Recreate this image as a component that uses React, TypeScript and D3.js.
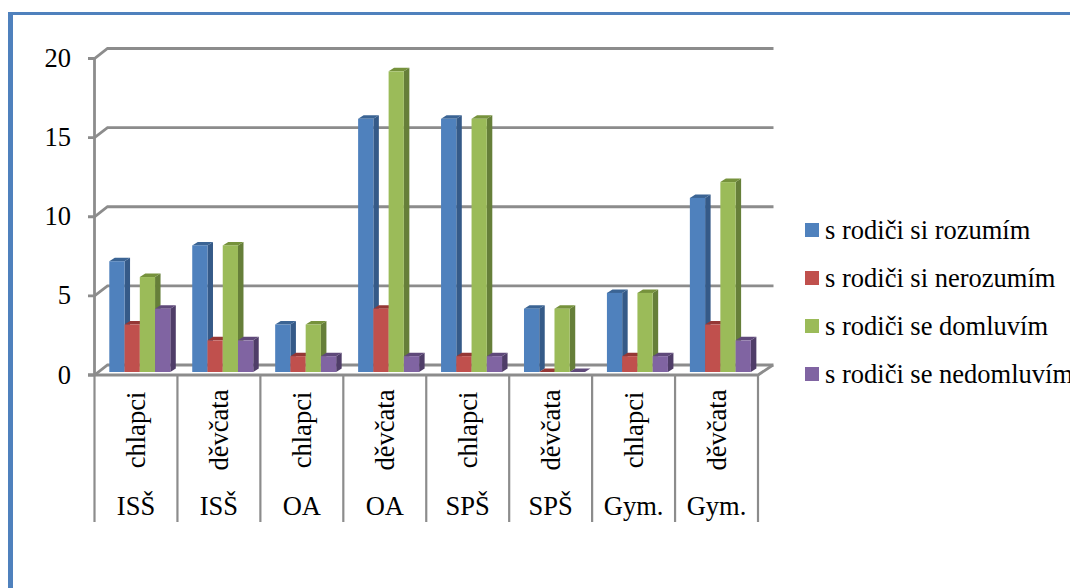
import React from "react";
import * as d3 from "d3";

const schools = ["ISŠ", "ISŠ", "OA", "OA", "SPŠ", "SPŠ", "Gym.", "Gym."];
const genders = ["chlapci", "děvčata", "chlapci", "děvčata", "chlapci", "děvčata", "chlapci", "děvčata"];
const seriesNames = ["s rodiči si rozumím", "s rodiči si nerozumím", "s rodiči se domluvím", "s rodiči se nedomluvím"];
const rozumim = [7, 8, 3, 16, 16, 4, 5, 11];
const nerozumim = [3, 2, 1, 4, 1, 0, 1, 3];
const domluvim = [6, 8, 3, 19, 16, 4, 5, 12];
const nedomluvim = [4, 2, 1, 1, 1, 0, 1, 2];
const seriesValues = [rozumim, nerozumim, domluvim, nedomluvim];
const frontColors = ["#4f81bd", "#c0504d", "#9bbb59", "#8064a2"];
const topColors = ["#3b6494", "#953735", "#76923c", "#5f497a"];
const sideColors = ["#355a88", "#8a3533", "#667f39", "#4f3d68"];
const yTicks = [0, 5, 10, 15, 20];

const W = 1070;
const H = 588;
const FONT = "'Liberation Serif', 'Times New Roman', serif";
const GRID = "#8c8c8c";
const FONT_SIZE = 26.5;

// Oblique offset of the back wall relative to the front plane
const wallDx = 13;
const wallDy = 10;
// Oblique depth of a single column, and its lift off the front floor edge
const barDx = 5.5;
const barDy = 3.5;
const barLift = 3;

const y = d3.scaleLinear().domain([0, 20]).range([375, 58.5]);
const groups = d3.range(genders.length);
const x = d3.scaleBand<number>().domain(groups).range([94.5, 758]);
const inner = d3.scaleBand<number>().domain(d3.range(4)).range([14.8, 75.8]);

function Column({ g, s }: { g: number; s: number }) {
  const v = seriesValues[s][g];
  const x0 = (x(g) as number) + (inner(s) as number);
  const x1 = x0 + inner.bandwidth();
  const y0 = y(0) - barLift;
  const yt = y(v) - barLift;
  return (
    <g>
      <path d={`M${x1},${yt}L${x1 + barDx},${yt - barDy}L${x1 + barDx},${y0 - barDy}L${x1},${y0}Z`} fill={sideColors[s]} />
      <path d={`M${x0},${yt}L${x0 + barDx},${yt - barDy}L${x1 + barDx},${yt - barDy}L${x1},${yt}Z`} fill={topColors[s]} />
      {v > 0 && <rect x={x0} y={yt} width={x1 - x0} height={y0 - yt} fill={frontColors[s]} />}
    </g>
  );
}

export default function App() {
  const edges = [...groups.map((g) => x(g) as number), 758];
  return (
    <svg width={W} height={H} style={{ position: "absolute", left: 0, top: 0, background: "#fff" }} fontFamily={FONT} fill="#000">
      <rect x={8} y={12} width={5} height={H - 12} fill="#4f81bd" />
      <rect x={8} y={12} width={W - 8} height={3} fill="#4f81bd" />

      {yTicks.map((t) => (
        <path
          key={t}
          d={`M88,${y(t)}H94.5L${94.5 + wallDx},${y(t) - wallDy}H773.5`}
          fill="none"
          stroke={GRID}
          strokeWidth={2.8}
        />
      ))}
      <line x1={94.5} x2={94.5} y1={y(20)} y2={y(0)} stroke={GRID} strokeWidth={2.8} />
      <path d={`M88,${y(0)}H758L${758 + 15},${y(0) - wallDy}`} fill="none" stroke={GRID} strokeWidth={2.8} />
      {edges.map((e) => (
        <line key={e} x1={e} x2={e} y1={y(0)} y2={522} stroke={GRID} strokeWidth={2.2} />
      ))}

      {groups.map((g) => (
        <g key={g}>
          {seriesNames.map((_, s) => (
            <Column key={s} g={g} s={s} />
          ))}
        </g>
      ))}

      {yTicks.map((t) => (
        <text key={t} x={71} y={y(t) + 8.5} textAnchor="end" fontSize={FONT_SIZE}>
          {t}
        </text>
      ))}

      {groups.map((g) => {
        const cx = (x(g) as number) + x.bandwidth() / 2;
        return (
          <g key={g}>
            <text transform={`translate(${cx + 9.5},430) rotate(-90)`} textAnchor="middle" fontSize={FONT_SIZE}>
              {genders[g]}
            </text>
            <text x={cx} y={515} textAnchor="middle" fontSize={FONT_SIZE}>
              {schools[g]}
            </text>
          </g>
        );
      })}

      {seriesNames.map((n, s) => {
        const ly = 230 + s * 48;
        return (
          <g key={n}>
            <rect x={805} y={ly - 7} width={14} height={14} fill={frontColors[s]} />
            <text x={825} y={ly + 9} fontSize={FONT_SIZE}>
              {n}
            </text>
          </g>
        );
      })}
    </svg>
  );
}
